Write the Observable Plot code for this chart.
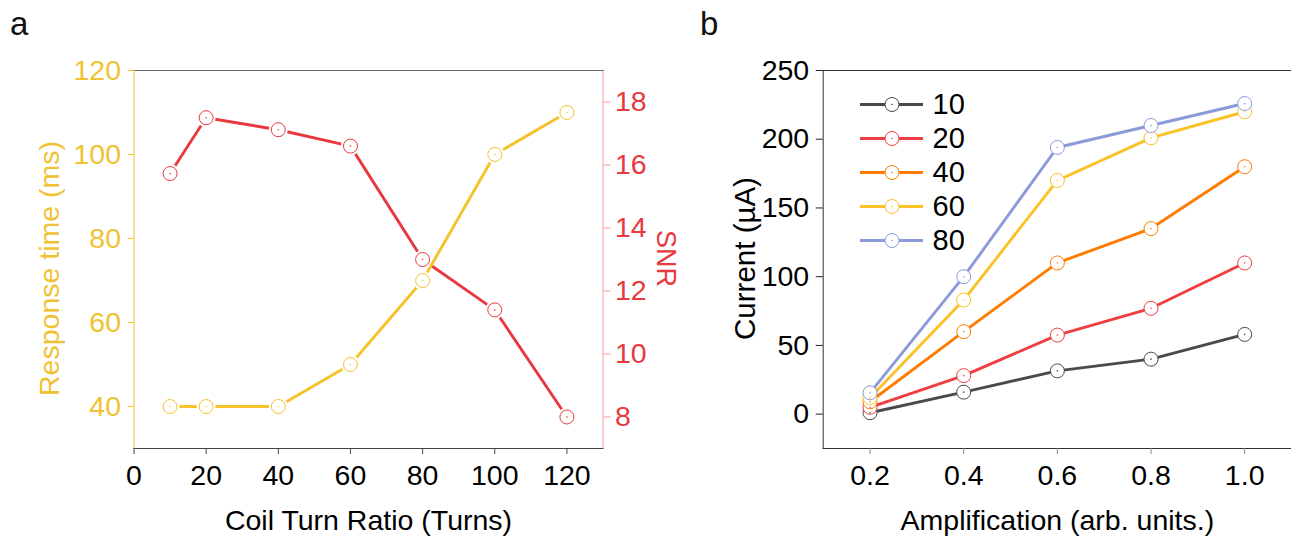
<!DOCTYPE html>
<html>
<head>
<meta charset="utf-8">
<script src="https://cdn.jsdelivr.net/npm/d3@7"></script>
<script src="https://cdn.jsdelivr.net/npm/@observablehq/plot@0.6"></script>
<style>
  html, body { margin: 0; padding: 0; background: #fff; }
  #wrap { position: relative; width: 1291px; height: 537px; overflow: hidden; font-family: "Liberation Sans", Arial, sans-serif; }
  .layer { position: absolute; top: 0; }
  .plabel { position: absolute; font-size: 33px; line-height: 1; color: #111; }
</style>
</head>
<body>
<div id="wrap">
  <div class="plabel" style="left:10px;top:7px;">a</div>
  <div class="plabel" style="left:700px;top:7px;">b</div>
</div>
<script>
// ---------- Data: panel a ----------
const turns = [10, 20, 40, 60, 80, 100, 120];
const responseTime = [40, 40, 40, 50, 70, 100, 110];
const snr = [15.73, 17.5, 17.12, 16.6, 13.0, 11.4, 8.0];
const turnTicks = [0, 20, 40, 60, 80, 100, 120];
const responseTicks = [40, 60, 80, 100, 120];
const snrTicks = [8, 10, 12, 14, 16, 18];

// ---------- Data: panel b ----------
const amplification = [0.2, 0.4, 0.6, 0.8, 1.0];
const seriesNames = ["10", "20", "40", "60", "80"];
const current10 = [1, 16, 31.5, 40, 58];
const current20 = [5, 28, 57.5, 77, 110];
const current40 = [9, 60, 110, 135, 180];
const current60 = [12, 83, 170, 201, 220];
const current80 = [15.5, 100, 194, 210, 226];
const ampTicks = [0.2, 0.4, 0.6, 0.8, 1.0];
const currentTicks = [0, 50, 100, 150, 200, 250];

// ---------- Styles ----------
const FONT = '"Liberation Sans", Arial, sans-serif';
const FS = 28.5;
const LW = 2.9;
const YELLOW = "#f5c22c";
const YELLOW_TEXT = "#f0c232";
const RED = "#e8393f";
const RED_AXIS = "#f29a9a";
const seriesColors = ["#4a4a4a", "#ef3e42", "#ff7c00", "#fbc125", "#8b9ad9"];

const wrap = document.getElementById("wrap");
function place(el, left, top) {
  el.classList.add("layer");
  el.style.left = left + "px";
  el.style.top = top + "px";
  wrap.appendChild(el);
}

// ---------- Panel a ----------
const rtData = turns.map((t, i) => ({turns: t, value: responseTime[i]}));
const snrData = turns.map((t, i) => ({turns: t, value: snr[i]}));

const aCommon = {
  width: 645, height: 537,
  marginLeft: 133.5, marginRight: 42.5, marginTop: 70, marginBottom: 89,
  style: {background: "transparent", fontFamily: FONT, overflow: "visible"}
};

const plotA2 = Plot.plot({
  ...aCommon,
  x: {domain: [0, 130], axis: null},
  y: {domain: [7, 19]},
  marks: [
    Plot.frame({anchor: "right", stroke: RED_AXIS}),
    Plot.axisY({anchor: "right", ticks: snrTicks, tickSize: 7, tickPadding: 5, fontSize: FS, stroke: RED_AXIS, fill: RED, label: null}),
    Plot.line(snrData, {x: "turns", y: "value", stroke: RED, strokeWidth: LW}),
    Plot.dot(snrData, {x: "turns", y: "value", r: 9.5, fill: "white"}),
    Plot.dot(snrData, {x: "turns", y: "value", r: 7, fill: "white", stroke: RED, strokeWidth: 1}),
    Plot.dot(snrData, {x: "turns", y: "value", r: 0.8, fill: RED}),
    Plot.text(["SNR"], {frameAnchor: "right", textAnchor: "middle", lineAnchor: "middle", rotate: 90, dx: 63, dy: -1, fontSize: 27, fill: RED})
  ]
});
place(plotA2, 0, 0);

const plotA1 = Plot.plot({
  ...aCommon,
  x: {domain: [0, 130]},
  y: {domain: [30, 120]},
  marks: [
    Plot.frame({anchor: "top", stroke: "#666"}),
    Plot.frame({anchor: "bottom", stroke: "#444"}),
    Plot.frame({anchor: "left", stroke: YELLOW}),
    Plot.axisX({ticks: turnTicks, tickSize: 6, tickPadding: 10, fontSize: FS, stroke: "#444", fill: "#000", label: null, tickFormat: d => String(d)}),
    Plot.axisY({ticks: responseTicks, tickSize: 6, tickPadding: 7, fontSize: FS, stroke: YELLOW, fill: YELLOW_TEXT, label: null}),
    Plot.line(rtData, {x: "turns", y: "value", stroke: YELLOW, strokeWidth: LW}),
    Plot.dot(rtData, {x: "turns", y: "value", r: 9.5, fill: "white"}),
    Plot.dot(rtData, {x: "turns", y: "value", r: 7, fill: "white", stroke: YELLOW, strokeWidth: 1}),
    Plot.dot(rtData, {x: "turns", y: "value", r: 0.8, fill: YELLOW}),
    Plot.text(["Response time (ms)"], {frameAnchor: "left", textAnchor: "middle", lineAnchor: "middle", rotate: -90, dx: -84, dy: 9, fontSize: FS, fill: YELLOW_TEXT}),
    Plot.text(["Coil Turn Ratio (Turns)"], {frameAnchor: "bottom", textAnchor: "middle", lineAnchor: "middle", dy: 72, fontSize: FS, fill: "#000"})
  ]
});
place(plotA1, 0, 0);

// ---------- Panel b ----------
const currents = [current10, current20, current40, current60, current80];
const seriesData = seriesNames.flatMap((s, k) =>
  amplification.map((a, i) => ({series: s, amp: a, current: currents[k][i]})));

const plotB = Plot.plot({
  width: 646, height: 537,
  marginLeft: 177.7, marginRight: 0, marginTop: 70, marginBottom: 89,
  style: {background: "transparent", fontFamily: FONT, overflow: "visible"},
  x: {domain: [0.1, 1.1]},
  y: {domain: [-25, 250]},
  color: {domain: seriesNames, range: seriesColors},
  marks: [
    Plot.frame({anchor: "top", stroke: "#333"}),
    Plot.frame({anchor: "bottom", stroke: "#333"}),
    Plot.frame({anchor: "left", stroke: "#333"}),
    Plot.axisX({ticks: ampTicks, tickFormat: d3.format(".1f"), tickSize: 6, tickPadding: 10, fontSize: FS, stroke: "#888", fill: "#000", label: null}),
    Plot.axisY({ticks: currentTicks, tickSize: 7, tickPadding: 7, fontSize: FS, stroke: "#222", fill: "#000", label: null}),
    Plot.line(seriesData, {x: "amp", y: "current", z: "series", stroke: "series", strokeWidth: LW}),
    Plot.dot(seriesData, {x: "amp", y: "current", r: 7, fill: "white", stroke: "series", strokeWidth: 1}),
    Plot.dot(seriesData, {x: "amp", y: "current", r: 0.8, fill: "series"}),
    Plot.text(["Current (\u00b5A)"], {frameAnchor: "left", textAnchor: "middle", lineAnchor: "middle", rotate: -90, dx: -78, dy: -1, fontSize: 29.5, fill: "#000"}),
    Plot.text(["Amplification (arb. units.)"], {frameAnchor: "bottom", textAnchor: "middle", lineAnchor: "middle", dy: 72, fontSize: FS, fill: "#000"})
  ]
});
place(plotB, 645, 0);

// ---------- Legend for panel b ----------
const legendData = seriesNames.map(s => ({series: s}));
const legend = Plot.plot({
  width: 150, height: 190,
  marginLeft: 5, marginRight: 82, marginTop: 17.3, marginBottom: 33.3,
  style: {background: "transparent", fontFamily: FONT, overflow: "visible"},
  x: {domain: [0, 1], axis: null},
  y: {type: "point", domain: seriesNames, axis: null, padding: 0},
  color: {domain: seriesNames, range: seriesColors},
  marks: [
    Plot.ruleY(legendData, {y: "series", x1: 0, x2: 1, stroke: "series", strokeWidth: 3}),
    Plot.dot(legendData, {y: "series", x: 0.5, r: 7, fill: "white", stroke: "series", strokeWidth: 1}),
    Plot.dot(legendData, {y: "series", x: 0.5, r: 0.8, fill: "series"}),
    Plot.text(legendData, {y: "series", x: 1, text: "series", dx: 9, textAnchor: "start", fontSize: 29, fill: "#000"})
  ]
});
place(legend, 855, 85);
</script>
</body>
</html>
